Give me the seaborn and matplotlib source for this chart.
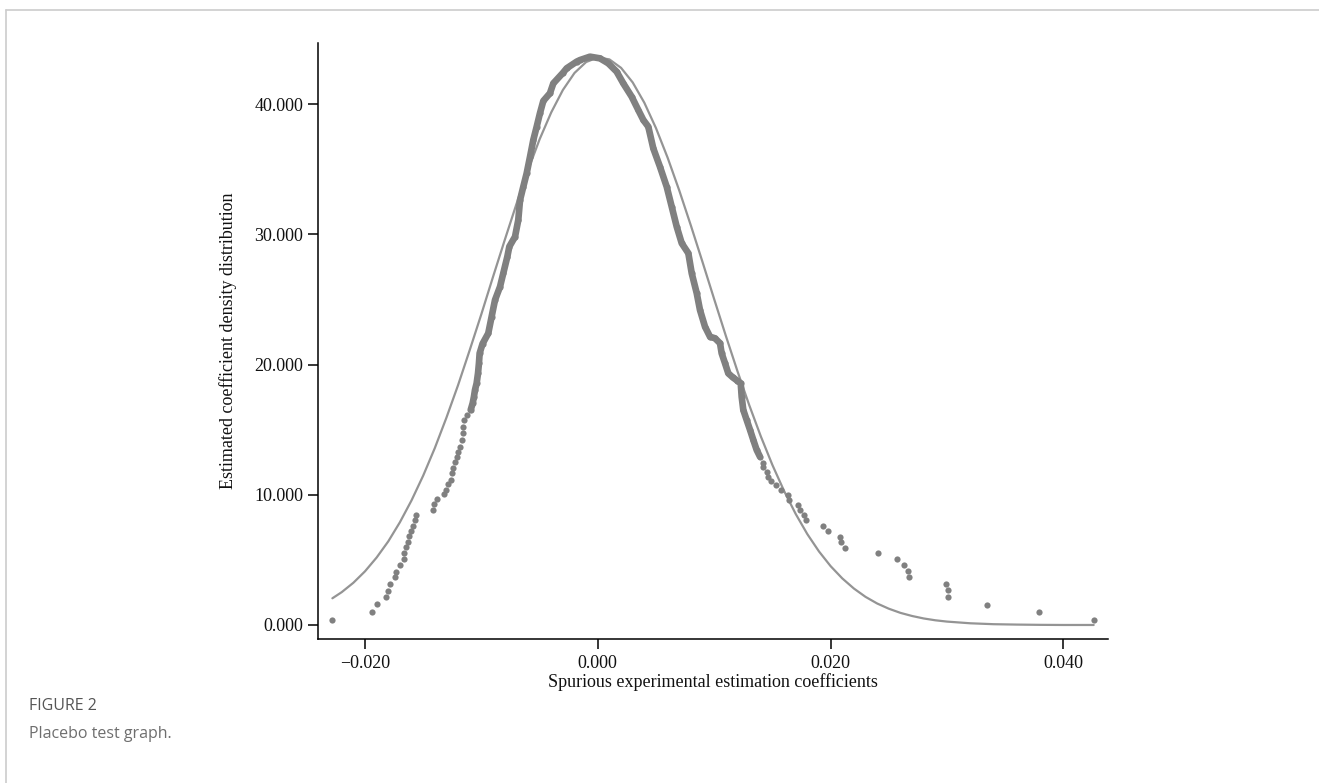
import matplotlib
matplotlib.use("Agg")
import matplotlib.pyplot as plt
from matplotlib.lines import Line2D
from matplotlib.ticker import FuncFormatter
import seaborn as sns

# placebo coefficients and their kernel density
coef_x = [-0.02281, -0.01937, -0.01900, -0.01822, -0.01805, -0.01785, -0.01740, -0.01734,
          -0.01697, -0.01668, -0.01662, -0.01650, -0.01633, -0.01622, -0.01602, -0.01585,
          -0.01568, -0.01559, -0.01413, -0.01405, -0.01381, -0.01319, -0.01307, -0.01284,
          -0.01264, -0.01255, -0.01241, -0.01227, -0.01212, -0.01198, -0.01184, -0.01169,
          -0.01161, -0.01156, -0.01147, -0.01126,
          -0.01092, -0.01075, -0.01064, -0.01055, -0.01041, -0.01029, -0.01021, -0.01015,
          -0.00990, -0.00941, -0.00912, -0.00883, -0.00840, -0.00812, -0.00777, -0.00760,
          -0.00711, -0.00683, -0.00668, -0.00640, -0.00611, -0.00582, -0.00554, -0.00525,
          -0.00497, -0.00468, -0.00411, -0.00382, -0.00300, -0.00267, -0.00181, -0.00153,
          -0.00067, 0.00019, 0.00090, 0.00162, 0.00219, 0.00291, 0.00348, 0.00391,
          0.00434, 0.00477, 0.00534, 0.00592, 0.00635, 0.00678, 0.00721, 0.00778,
          0.00807, 0.00850, 0.00878, 0.00921, 0.00964, 0.01007, 0.01050, 0.01064,
          0.01093, 0.01121, 0.01159, 0.01199, 0.01228, 0.01236, 0.01250, 0.01279,
          0.01308, 0.01336, 0.01365, 0.01393,
          0.01417, 0.01422, 0.01451, 0.01460, 0.01488, 0.01528, 0.01571, 0.01637,
          0.01645, 0.01723, 0.01737, 0.01771, 0.01786, 0.01937, 0.01975, 0.02081,
          0.02087, 0.02124, 0.02405, 0.02570, 0.02631, 0.02668, 0.02674, 0.02989,
          0.03006, 0.03012, 0.03341, 0.03790, 0.04260]
coef_dens = [0.38, 1.02, 1.59, 2.13, 2.64, 3.17, 3.66, 4.09,
             4.61, 5.07, 5.51, 5.97, 6.40, 6.84, 7.22, 7.63,
             8.06, 8.45, 8.83, 9.29, 9.65, 10.04, 10.37, 10.83,
             11.14, 11.65, 12.04, 12.50, 12.93, 13.31, 13.69, 14.21,
             14.72, 15.23, 15.74, 16.13,
             16.51, 17.03, 17.53, 18.05, 18.56, 19.33, 20.10, 20.87,
             21.60, 22.40, 23.68, 24.96, 25.98, 27.01, 28.29, 29.06,
             29.82, 31.11, 32.64, 33.66, 34.69, 35.97, 37.25, 38.27,
             39.30, 40.25, 40.84, 41.60, 42.40, 42.76, 43.27, 43.39,
             43.65, 43.52, 43.14, 42.50, 41.60, 40.58, 39.55, 38.79,
             38.27, 36.60, 35.20, 33.66, 32.13, 30.59, 29.32, 28.55,
             27.01, 25.48, 24.19, 22.91, 22.14, 22.02, 21.64, 20.87,
             20.10, 19.33, 19.02, 18.76, 18.56, 17.53, 16.51, 15.74,
             14.98, 14.21, 13.44, 12.93,
             12.42, 12.16, 11.77, 11.39, 11.08, 10.73, 10.37, 9.98,
             9.60, 9.22, 8.83, 8.45, 8.04, 7.63, 7.22, 6.78,
             6.37, 5.94, 5.51, 5.05, 4.59, 4.15, 3.66, 3.15,
             2.67, 2.13, 1.56, 1.00, 0.36]

# the middle stretch where the dots overlap into a solid band
dense_from, dense_to = 36, 104

# reference normal density curve
norm_x = [-0.0228, -0.022, -0.021, -0.020, -0.019, -0.018, -0.017, -0.016, -0.015,
          -0.014, -0.013, -0.012, -0.011, -0.010, -0.009, -0.008, -0.007, -0.006,
          -0.005, -0.004, -0.003, -0.002, -0.001, 0.000, 0.001, 0.002, 0.003,
          0.004, 0.005, 0.006, 0.007, 0.008, 0.009, 0.010, 0.011, 0.012,
          0.013, 0.014, 0.015, 0.016, 0.017, 0.018, 0.019, 0.020, 0.021,
          0.022, 0.023, 0.024, 0.025, 0.026, 0.027, 0.028, 0.029, 0.030,
          0.032, 0.034, 0.036, 0.038, 0.040, 0.0426]
norm_y = [2.05, 2.52, 3.24, 4.12, 5.18, 6.42, 7.89, 9.57, 11.47,
          13.59, 15.93, 18.43, 21.12, 23.88, 26.74, 29.55, 32.30, 34.92,
          37.30, 39.37, 41.09, 42.40, 43.24, 43.59, 43.44, 42.79, 41.67,
          40.11, 38.16, 35.89, 33.37, 30.67, 27.87, 25.02, 22.21, 19.49,
          16.91, 14.50, 12.29, 10.30, 8.53, 6.98, 5.65, 4.52, 3.58,
          2.80, 2.16, 1.65, 1.25, 0.93, 0.69, 0.50, 0.36, 0.26,
          0.13, 0.06, 0.03, 0.01, 0.00, 0.00]

x_ticks = [-0.02, 0.0, 0.02, 0.04]
y_ticks = [0, 10, 20, 30, 40]


def three_dp(v, pos):
    return ('%.3f' % v).replace('-', '\u2212')


sns.set_style("white")
plt.rcParams['font.family'] = ['Liberation Serif', 'DejaVu Serif']

fig = plt.figure(figsize=(13.19, 7.83), dpi=100)
ax = fig.add_axes([318.3 / 1319, 1 - 639.3 / 783, (1108 - 318.3) / 1319, (639.3 - 43) / 783])

dot_col = '#808080'
sns.lineplot(x=norm_x, y=norm_y, ax=ax, color='#949494', linewidth=1.6,
             estimator=None, sort=False, zorder=2)
sns.lineplot(x=coef_x[dense_from:dense_to], y=coef_dens[dense_from:dense_to], ax=ax,
             color=dot_col, linewidth=4.8, estimator=None, sort=False, zorder=3,
             solid_capstyle='round', solid_joinstyle='round')
sns.scatterplot(x=coef_x, y=coef_dens, ax=ax, color=dot_col, s=20, linewidth=0, zorder=4)

ax.set_xlim(-0.02401, 0.04383)
ax.set_ylim(-1.10, 44.7)
ax.set_xticks(x_ticks)
ax.set_yticks(y_ticks)
ax.xaxis.set_major_formatter(FuncFormatter(three_dp))
ax.yaxis.set_major_formatter(FuncFormatter(three_dp))
ax.tick_params(axis='both', direction='out', length=7, width=1.1, color='black',
               labelsize=13, labelcolor='#111111', pad=4,
               bottom=True, left=True)

for side in ['top', 'right']:
    ax.spines[side].set_visible(False)
for side in ['left', 'bottom']:
    ax.spines[side].set_color('black')
    ax.spines[side].set_linewidth(1.1)

ax.set_xlabel('Spurious experimental estimation coefficients', fontsize=13, labelpad=1, color='#111111')
ax.set_ylabel('Estimated coefficient density distribution', fontsize=13, labelpad=12, color='#111111')

# page frame and caption
fig.add_artist(Line2D([6 / 1319, 1.0], [1 - 9.5 / 783] * 2, color='#cccccc', linewidth=1.2))
fig.add_artist(Line2D([6 / 1319] * 2, [0.0, 1 - 9.5 / 783], color='#cccccc', linewidth=1.2))
fig.text(29 / 1319, 1 - 706 / 783, 'FIGURE 2', family=['Open Sans', 'DejaVu Sans'],
         fontsize=11.5, color='#555555', va='center', ha='left')
fig.text(29 / 1319, 1 - 734 / 783, 'Placebo test graph.', family=['Open Sans', 'DejaVu Sans'],
         fontsize=11.5, color='#6e6e6e', va='center', ha='left')

fig.savefig('out.png', dpi=100)
